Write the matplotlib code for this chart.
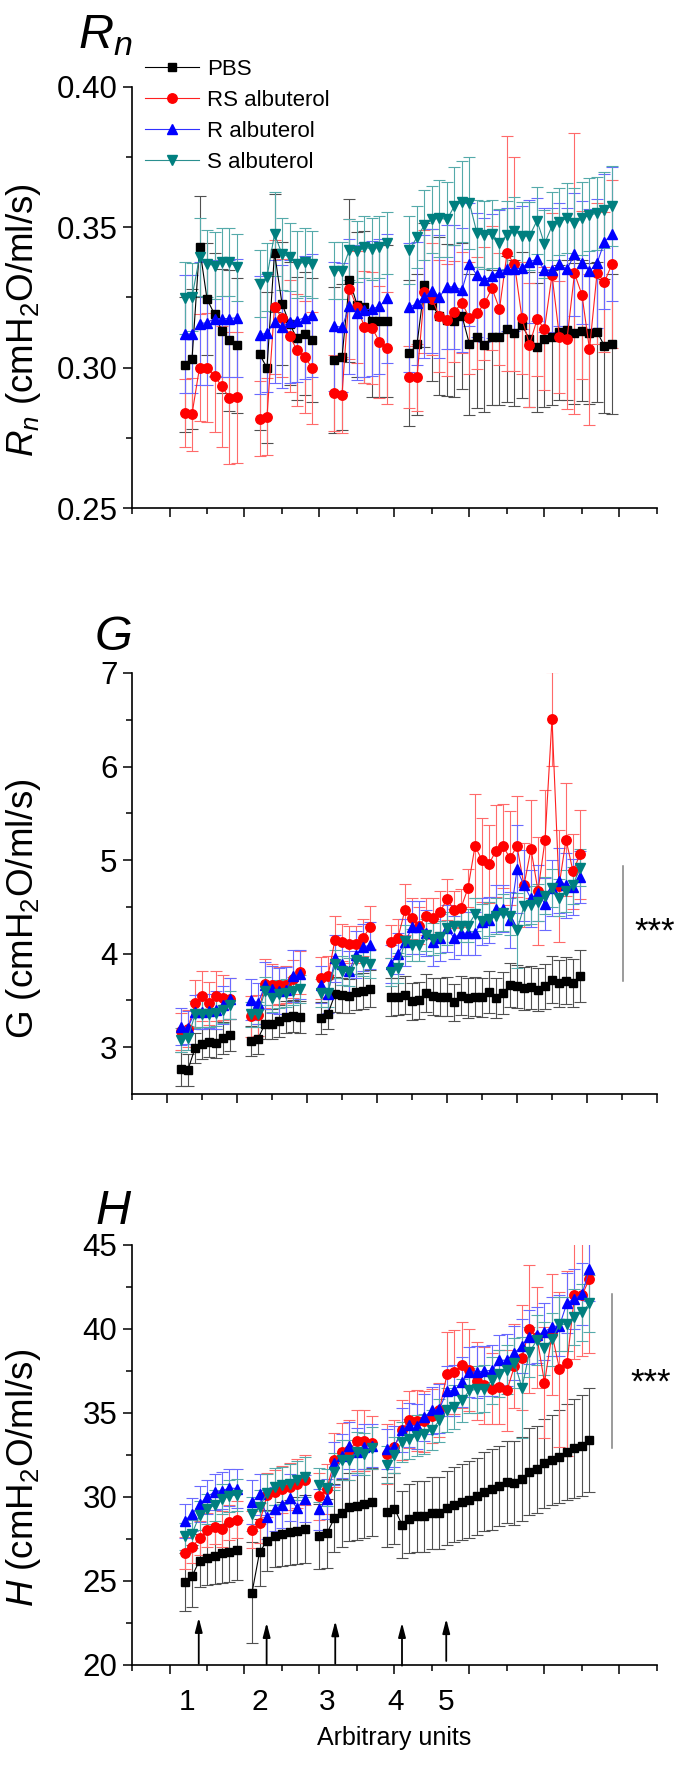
import numpy as np
import matplotlib
matplotlib.use("Agg")
import matplotlib.pyplot as plt
from matplotlib.lines import Line2D
import matplotlib.transforms as mtrans

plt.rcParams['font.family'] = ['Liberation Sans', 'DejaVu Sans']
plt.rcParams['mathtext.fontset'] = 'custom'
plt.rcParams['mathtext.rm'] = 'Liberation Sans'
plt.rcParams['mathtext.it'] = 'Liberation Sans:italic'
plt.rcParams['mathtext.bf'] = 'Liberation Sans:bold'

# ---------------- data ----------------
SERIES = ["PBS", "RS albuterol", "R albuterol", "S albuterol"]
GROUP_SIZES = [8, 8, 8, 28]
RN_STARTS = [7, 17, 27, 37]
G_STARTS = [7, 17, 27, 37]
H_STARTS = [7, 16, 25, 34]

# Rn panel
RN_PBS = [0.301, 0.303, 0.343, 0.3245, 0.319, 0.313, 0.3097, 0.308,
          0.3047, 0.300, 0.341, 0.3228, 0.3157, 0.3104, 0.3121, 0.3098,
          0.3027, 0.3037, 0.3311, 0.3225, 0.3216, 0.3166, 0.3166, 0.3166,
          0.3051, 0.3083, 0.3295, 0.3223, 0.3184, 0.317, 0.3167, 0.3184, 0.3083, 0.3108,
          0.3081, 0.3108, 0.3108, 0.3137, 0.3122, 0.3152, 0.3101, 0.3073, 0.3101, 0.3108,
          0.3126, 0.3134, 0.3122, 0.3132, 0.3122, 0.3128, 0.3077, 0.3084]
RN_PBS_ERR = [0.024, 0.025, 0.018, 0.02, 0.022, 0.022, 0.025, 0.024,
              0.027, 0.027, 0.021, 0.022, 0.022, 0.022, 0.022, 0.022,
              0.026, 0.026, 0.029, 0.026, 0.027, 0.027, 0.027, 0.027,
              0.026, 0.025, 0.022, 0.027, 0.028, 0.027, 0.027, 0.026, 0.025, 0.025,
              0.024, 0.024, 0.024, 0.026, 0.026, 0.026, 0.024, 0.023, 0.024, 0.024,
              0.024, 0.025, 0.025, 0.025, 0.025, 0.025, 0.024, 0.025]
RN_RS = [0.2838, 0.2834, 0.300, 0.300, 0.297, 0.2933, 0.2891, 0.2894,
         0.2818, 0.2826, 0.3216, 0.3177, 0.3113, 0.3063, 0.3039, 0.300,
         0.2909, 0.2903, 0.3281, 0.3216, 0.3145, 0.3142, 0.3092, 0.3069,
         0.2966, 0.2966, 0.3271, 0.3244, 0.3184, 0.317, 0.320, 0.3231, 0.3176, 0.3194,
         0.3229, 0.3283, 0.3209, 0.3407, 0.3369, 0.3176, 0.3081, 0.3172, 0.3139, 0.333,
         0.3108, 0.3101, 0.3336, 0.3259, 0.3065, 0.3336, 0.3306, 0.3369]
RN_RS_ERR = [0.012, 0.013, 0.019, 0.0195, 0.02, 0.0215, 0.0235, 0.0233,
             0.0134, 0.0136, 0.024, 0.021, 0.02, 0.02, 0.02, 0.02,
             0.0136, 0.0136, 0.025, 0.02, 0.02, 0.02, 0.02, 0.02,
             0.011, 0.012, 0.022, 0.02, 0.02, 0.02, 0.018, 0.018, 0.02, 0.02,
             0.02, 0.022, 0.02, 0.042, 0.038, 0.02, 0.022, 0.02, 0.022, 0.022,
             0.02, 0.025, 0.05, 0.03, 0.027, 0.025, 0.025, 0.03]
RN_R = [0.312, 0.312, 0.3157, 0.316, 0.3175, 0.3175, 0.3175, 0.3178,
        0.3117, 0.3123, 0.3164, 0.3146, 0.3164, 0.3168, 0.3178, 0.3186,
        0.3148, 0.3144, 0.3218, 0.3196, 0.3205, 0.321, 0.3218, 0.3248,
        0.3215, 0.3229, 0.3253, 0.3274, 0.3253, 0.3288, 0.3288, 0.3277, 0.3368, 0.333,
        0.3312, 0.3327, 0.3342, 0.335, 0.335, 0.3356, 0.3378, 0.3386, 0.3348, 0.3348,
        0.3368, 0.335, 0.3404, 0.3374, 0.3344, 0.3372, 0.3449, 0.3476]
RN_R_ERR = [0.021, 0.021, 0.022, 0.022, 0.021, 0.021, 0.021, 0.021,
            0.021, 0.021, 0.022, 0.022, 0.022, 0.022, 0.022, 0.022,
            0.023, 0.023, 0.024, 0.024, 0.024, 0.024, 0.024, 0.023,
            0.023, 0.022, 0.022, 0.022, 0.022, 0.022, 0.022, 0.022, 0.022, 0.022,
            0.022, 0.022, 0.022, 0.022, 0.022, 0.022, 0.022, 0.022, 0.022, 0.022,
            0.022, 0.022, 0.022, 0.022, 0.022, 0.023, 0.024, 0.024]
RN_S = [0.3248, 0.3252, 0.3394, 0.337, 0.3364, 0.3376, 0.3376, 0.3358,
        0.3299, 0.3323, 0.3476, 0.3405, 0.3394, 0.3368, 0.3376, 0.3368,
        0.3346, 0.3346, 0.3421, 0.3414, 0.3429, 0.3423, 0.3429, 0.3443,
        0.3419, 0.3465, 0.3508, 0.3529, 0.3532, 0.3529, 0.3576, 0.3591, 0.3586, 0.3479,
        0.3473, 0.3476, 0.3445, 0.3473, 0.3488, 0.3469, 0.3469, 0.3524, 0.3441, 0.3505,
        0.352, 0.3532, 0.3514, 0.3532, 0.3544, 0.355, 0.3562, 0.3576]
RN_S_ERR = [0.0128, 0.012, 0.014, 0.012, 0.012, 0.012, 0.012, 0.012,
            0.012, 0.012, 0.015, 0.013, 0.012, 0.012, 0.012, 0.012,
            0.010, 0.010, 0.011, 0.011, 0.011, 0.011, 0.011, 0.011,
            0.012, 0.011, 0.0125, 0.012, 0.0137, 0.0134, 0.014, 0.0145, 0.0164, 0.012,
            0.012, 0.012, 0.012, 0.012, 0.012, 0.012, 0.012, 0.012, 0.012, 0.012,
            0.012, 0.0125, 0.0125, 0.013, 0.013, 0.013, 0.0135, 0.0142]

# G panel
G_PBS = [2.77, 2.76, 2.99, 3.03, 3.06, 3.04, 3.10, 3.13,
         3.07, 3.09, 3.25, 3.25, 3.28, 3.32, 3.33, 3.32,
         3.31, 3.36, 3.565, 3.555, 3.545, 3.59, 3.60, 3.625,
         3.535, 3.54, 3.56, 3.49, 3.50, 3.58, 3.545, 3.535, 3.54, 3.48,
         3.55, 3.525, 3.54, 3.535, 3.59, 3.525, 3.58, 3.665, 3.65, 3.63,
         3.64, 3.615, 3.65, 3.72, 3.685, 3.71, 3.685, 3.76]
G_PBS_ERR = [0.18, 0.17, 0.16, 0.16, 0.16, 0.16, 0.17, 0.17,
             0.16, 0.16, 0.16, 0.16, 0.17, 0.17, 0.17, 0.17,
             0.17, 0.17, 0.19, 0.19, 0.18, 0.19, 0.19, 0.20,
             0.20, 0.20, 0.20, 0.20, 0.20, 0.20, 0.20, 0.20, 0.21, 0.20,
             0.21, 0.21, 0.21, 0.21, 0.22, 0.21, 0.22, 0.23, 0.23, 0.23,
             0.23, 0.23, 0.24, 0.25, 0.25, 0.25, 0.26, 0.28]
G_RS = [3.17, 3.20, 3.47, 3.55, 3.47, 3.55, 3.53, 3.52,
        3.33, 3.34, 3.68, 3.67, 3.66, 3.67, 3.73, 3.80,
        3.74, 3.76, 4.15, 4.12, 4.10, 4.10, 4.17, 4.28,
        4.13, 4.17, 4.47, 4.38, 4.30, 4.40, 4.38, 4.45, 4.58, 4.47,
        4.49, 4.70, 5.15, 5.00, 4.96, 5.10, 5.15, 5.02, 5.15, 4.73,
        5.12, 4.67, 5.21, 6.51, 4.72, 5.22, 4.88, 5.06]
G_RS_ERR = [0.20, 0.20, 0.25, 0.27, 0.23, 0.27, 0.24, 0.22,
            0.22, 0.22, 0.26, 0.22, 0.20, 0.20, 0.20, 0.23,
            0.22, 0.22, 0.25, 0.20, 0.20, 0.20, 0.20, 0.23,
            0.18, 0.20, 0.27, 0.22, 0.20, 0.20, 0.22, 0.22, 0.22, 0.20,
            0.20, 0.20, 0.56, 0.45, 0.42, 0.49, 0.45, 0.50, 0.54, 0.45,
            0.52, 0.58, 0.54, 0.50, 0.60, 0.60, 0.40, 0.48]
G_R = [3.22, 3.21, 3.38, 3.38, 3.39, 3.40, 3.45, 3.52,
       3.51, 3.47, 3.66, 3.62, 3.60, 3.61, 3.76, 3.78,
       3.67, 3.57, 3.95, 3.89, 3.81, 3.99, 4.07, 4.09,
       3.89, 4.00, 4.12, 4.28, 4.28, 4.22, 4.12, 4.17, 4.27, 4.17,
       4.22, 4.22, 4.22, 4.34, 4.36, 4.48, 4.48, 4.36, 4.90, 4.73,
       4.59, 4.65, 4.53, 4.70, 4.78, 4.73, 4.71, 4.82]
G_R_ERR = [0.20, 0.18, 0.18, 0.19, 0.18, 0.20, 0.20, 0.22,
           0.22, 0.22, 0.25, 0.25, 0.25, 0.25, 0.28, 0.26,
           0.20, 0.20, 0.25, 0.22, 0.22, 0.25, 0.25, 0.25,
           0.20, 0.22, 0.25, 0.28, 0.28, 0.25, 0.25, 0.25, 0.25, 0.23,
           0.23, 0.23, 0.23, 0.25, 0.25, 0.25, 0.25, 0.30, 0.47, 0.38,
           0.30, 0.30, 0.28, 0.30, 0.35, 0.35, 0.30, 0.28]
G_S = [3.08, 3.10, 3.35, 3.36, 3.36, 3.37, 3.40, 3.45,
       3.35, 3.35, 3.60, 3.53, 3.57, 3.58, 3.60, 3.62,
       3.58, 3.58, 3.89, 3.82, 3.80, 3.93, 3.91, 3.89,
       3.80, 3.85, 4.14, 4.09, 4.09, 4.20, 4.16, 4.18, 4.27, 4.30,
       4.30, 4.30, 4.42, 4.35, 4.37, 4.40, 4.44, 4.40, 4.25, 4.51,
       4.52, 4.55, 4.62, 4.70, 4.60, 4.67, 4.73, 4.92]
G_S_ERR = [0.13, 0.13, 0.14, 0.14, 0.14, 0.14, 0.14, 0.15,
           0.13, 0.13, 0.15, 0.15, 0.15, 0.15, 0.15, 0.15,
           0.15, 0.15, 0.15, 0.15, 0.15, 0.15, 0.15, 0.15,
           0.15, 0.16, 0.17, 0.17, 0.17, 0.17, 0.17, 0.17, 0.18, 0.18,
           0.18, 0.18, 0.18, 0.18, 0.18, 0.19, 0.20, 0.20, 0.40, 0.20,
           0.20, 0.20, 0.20, 0.20, 0.20, 0.22, 0.20, 0.20]

# H panel
H_PBS = [24.94, 25.28, 26.22, 26.39, 26.5, 26.65, 26.72, 26.85,
         24.3, 26.7, 27.4, 27.7, 27.8, 27.9, 28.0, 28.1,
         27.65, 27.85, 28.75, 29.05, 29.4, 29.45, 29.6, 29.7,
         29.1, 29.3, 28.35, 28.7, 28.85, 28.85, 29.05, 29.05, 29.35, 29.55,
         29.7, 29.85, 30.05, 30.3, 30.45, 30.65, 30.9, 30.85, 31.1, 31.5,
         31.65, 32.0, 32.2, 32.4, 32.7, 32.9, 33.05, 33.4]
H_PBS_ERR = [1.75, 1.85, 1.6, 1.65, 1.7, 1.75, 1.75, 1.8,
             3.0, 2.0, 1.8, 1.85, 1.9, 1.95, 2.0, 2.0,
             1.95, 2.05, 2.0, 2.0, 2.0, 2.0, 2.05, 2.05,
             2.1, 2.1, 2.0, 2.05, 2.1, 2.1, 2.15, 2.15, 2.2, 2.25,
             2.25, 2.3, 2.3, 2.35, 2.4, 2.4, 2.45, 2.5, 2.5, 2.6,
             2.6, 2.65, 2.7, 2.75, 2.85, 2.95, 3.0, 3.1]
H_RS = [26.65, 27.0, 27.55, 28.05, 28.2, 28.1, 28.5, 28.65,
        28.05, 28.45, 30.1, 30.3, 30.45, 30.6, 30.8, 31.0,
        30.05, 30.49, 32.2, 32.7, 32.8, 33.35, 33.35, 33.24,
        32.55, 33.0, 34.0, 34.6, 34.55, 34.5, 34.8, 35.2, 37.3, 37.45,
        37.85, 37.55, 36.9, 36.65, 36.45, 36.55, 36.35, 37.8, 38.3, 40.0,
        39.5, 36.8, 39.7, 37.6, 37.95, 42.0, 42.0, 43.0]
H_RS_ERR = [0.95, 0.95, 1.0, 1.0, 1.0, 1.05, 1.05, 1.1,
            1.1, 1.2, 1.3, 1.3, 1.4, 1.4, 1.45, 1.5,
            1.4, 1.5, 1.6, 1.7, 1.8, 1.8, 1.8, 1.6,
            1.8, 1.6, 1.8, 1.7, 1.8, 1.8, 1.6, 1.6, 2.5, 2.5,
            2.55, 2.45, 2.3, 2.3, 2.1, 2.2, 2.4, 2.5, 3.1, 3.8,
            3.0, 3.3, 3.6, 4.6, 5.5, 3.8, 3.6, 4.4]
H_R = [28.58, 28.97, 29.58, 30.0, 30.3, 30.37, 30.54, 30.5,
       29.7, 30.15, 28.8, 29.3, 29.5, 29.95, 29.35, 29.9,
       29.26, 29.88, 32.0, 32.45, 33.06, 32.7, 33.0, 33.06,
       32.87, 33.0, 34.0, 34.3, 34.2, 34.76, 35.16, 35.25, 36.3, 36.35,
       36.85, 37.44, 37.44, 37.5, 37.54, 38.14, 38.14, 38.58, 39.0, 39.53,
       39.63, 39.83, 40.13, 40.2, 41.56, 41.8, 42.07, 43.55]
H_R_ERR = [1.0, 1.0, 1.05, 1.0, 1.05, 1.1, 1.1, 1.15,
           1.3, 1.2, 1.3, 1.3, 1.35, 1.4, 1.4, 1.4,
           1.2, 1.2, 1.3, 1.3, 1.4, 1.4, 1.35, 1.3,
           1.2, 1.2, 1.3, 1.3, 1.35, 1.4, 1.4, 1.45, 1.5, 1.5,
           1.5, 1.5, 1.55, 1.5, 1.5, 1.5, 1.55, 1.6, 1.6, 1.6,
           1.65, 1.7, 1.75, 1.8, 1.8, 1.8, 1.85, 1.9]
H_S = [27.67, 27.8, 28.9, 29.3, 29.5, 29.88, 30.05, 30.12,
       29.0, 29.4, 30.25, 30.6, 30.7, 30.8, 31.0, 31.2,
       30.7, 30.54, 31.5, 32.2, 32.2, 32.65, 32.57, 32.94,
       31.93, 32.5, 33.26, 33.46, 33.66, 33.76, 34.0, 34.56, 35.16, 35.36,
       35.75, 36.35, 36.4, 36.45, 36.95, 37.35, 37.58, 37.98, 36.5, 38.64,
       39.34, 38.84, 39.38, 40.28, 40.28, 40.72, 41.0, 41.52]
H_S_ERR = [0.8, 0.85, 0.85, 0.9, 0.9, 0.9, 0.95, 0.95,
           1.0, 1.0, 1.1, 1.1, 1.1, 1.15, 1.15, 1.2,
           1.0, 1.1, 1.1, 1.2, 1.2, 1.2, 1.25, 1.25,
           1.1, 1.1, 1.2, 1.2, 1.2, 1.2, 1.2, 1.3, 1.3, 1.3,
           1.3, 1.35, 1.4, 1.4, 1.4, 1.4, 1.45, 1.5, 3.0, 1.5,
           1.5, 1.55, 1.6, 1.6, 1.6, 1.65, 1.7, 1.7]

RN_YTICKS = [0.25, 0.30, 0.35, 0.40]
G_YTICKS = [3, 4, 5, 6, 7]
H_YTICKS = [20, 25, 30, 35, 40, 45]

H_XLABELS = ["1", "2", "3", "4", "5"]
H_XLABEL_POS = [7.3, 17.1, 26.0, 35.1, 41.9]
ARROW_X = [8.9, 17.95, 27.1, 36.0, 41.9]
ARROW_TOP = [22.82, 22.52, 22.62, 22.52, 22.75]
ARROW_BOTTOM = [20.08, 20.04, 20.08, 19.96, 20.24]

G_SIG = dict(x=70.1, y0=3.71, y1=4.94, tx=74.6, ty=4.13)
H_SIG = dict(x=64.0, y0=32.9, y1=42.1, tx=69.2, ty=36.2)

# ---------------- styles ----------------
STYLES = [
    dict(marker='s', color='#000000', lcolor='#000000', ecolor='#505050', ms=6.0),
    dict(marker='o', color='#ff0000', lcolor='#ff2020', ecolor='#ff6a6a', ms=6.8),
    dict(marker='^', color='#0000ff', lcolor='#3030ff', ecolor='#6a6aff', ms=7.4),
    dict(marker='v', color='#007f7f', lcolor='#2a8f8f', ecolor='#55aaaa', ms=7.4),
]

W, H = 685, 1778
fig = plt.figure(figsize=(W / 100, H / 100), dpi=100)


def axes_rect(top_px, bottom_px, left_px=132, right_px=657):
    return [left_px / W, 1 - bottom_px / H, (right_px - left_px) / W, (bottom_px - top_px) / H]


def x_positions(starts):
    return [np.arange(s, s + n) for s, n in zip(starts, GROUP_SIZES)]


def draw_panel(ax, starts, series, errs):
    xs = x_positions(starts)
    for vals, err, st in zip(series, errs, STYLES):
        vals = np.asarray(vals)
        err = np.asarray(err)
        i0 = 0
        for xg in xs:
            n = len(xg)
            ax.errorbar(xg, vals[i0:i0 + n], yerr=err[i0:i0 + n],
                        fmt='-', marker=st['marker'], color=st['lcolor'],
                        mfc=st['color'], mec=st['color'], ms=st['ms'], lw=0.8,
                        ecolor=st['ecolor'], elinewidth=0.8, capsize=4.3,
                        capthick=0.8)
            i0 += n


def style_axes(ax, xmax, ylim, yticks, yminor, yfmt):
    for s in ['top', 'right']:
        ax.spines[s].set_visible(False)
    for s in ['left', 'bottom']:
        ax.spines[s].set_linewidth(1.2)
    ax.set_xlim(0, xmax)
    ax.set_ylim(*ylim)
    ax.set_xticks(np.arange(5, xmax + 0.1, 10))
    ax.set_xticks(np.arange(0, xmax + 0.1, 10), minor=True)
    ax.set_xticklabels([])
    ax.set_yticks(yticks)
    ax.set_yticks(yminor, minor=True)
    ax.set_yticklabels([yfmt.format(v) for v in yticks])
    ax.tick_params(axis='both', which='major', direction='out', length=6.5,
                   width=1.1, labelsize=22.5, pad=4)
    ax.tick_params(axis='both', which='minor', direction='out', length=4.5, width=1.1)
    ax.tick_params(axis='x', which='major', length=6.5)
    ax.tick_params(axis='x', which='minor', length=4.0)


# ---- Rn panel ----
ax1 = fig.add_axes(axes_rect(87, 508))
draw_panel(ax1, RN_STARTS, [RN_PBS, RN_RS, RN_R, RN_S],
           [RN_PBS_ERR, RN_RS_ERR, RN_R_ERR, RN_S_ERR])
style_axes(ax1, 70, (0.25, 0.40), RN_YTICKS, [0.275, 0.325, 0.375], "{:.2f}")
ax1.set_ylabel(r'$R_n$ (cmH$_2$O/ml/s)', fontsize=26.5)
ax1.yaxis.set_label_coords(-0.17, 0.445)
ax1.text(0.0, 1.093, r'$R_n$', transform=ax1.transAxes, ha='right', va='baseline',
         fontsize=35)

handles = [Line2D([], [], color=st['lcolor'], lw=0.8, marker=st['marker'],
                  mfc=st['color'], mec=st['color'], ms=st['ms']) for st in STYLES]
fig.legend(handles, SERIES, loc='upper left', bbox_to_anchor=(145 / W, 1 - 59 / H),
           bbox_transform=fig.transFigure, frameon=False, fontsize=16,
           borderpad=0, borderaxespad=0, handlelength=2.45, handletextpad=0.35,
           labelspacing=0.45)

# ---- G panel ----
ax2 = fig.add_axes(axes_rect(673, 1094))
draw_panel(ax2, G_STARTS, [G_PBS, G_RS, G_R, G_S],
           [G_PBS_ERR, G_RS_ERR, G_R_ERR, G_S_ERR])
style_axes(ax2, 75, (2.5, 7.0), G_YTICKS, [3.5, 4.5, 5.5, 6.5], "{:d}")
ax2.set_ylabel(r'G (cmH$_2$O/ml/s)', fontsize=26.5)
ax2.yaxis.set_label_coords(-0.17, 0.44)
ax2.text(0.0, 1.055, r'$G$', transform=ax2.transAxes, ha='right', va='baseline',
         fontsize=35)
ax2.plot([G_SIG['x'], G_SIG['x']], [G_SIG['y0'], G_SIG['y1']], color='#808080',
         lw=1.1, clip_on=False)
ax2.text(G_SIG['tx'], G_SIG['ty'], '***', ha='center', va='baseline', fontsize=25,
         clip_on=False)

# ---- H panel ----
ax3 = fig.add_axes(axes_rect(1245, 1665))
draw_panel(ax3, H_STARTS, [H_PBS, H_RS, H_R, H_S],
           [H_PBS_ERR, H_RS_ERR, H_R_ERR, H_S_ERR])
style_axes(ax3, 70, (20, 45), H_YTICKS, [22.5, 27.5, 32.5, 37.5, 42.5], "{:d}")
ax3.set_ylabel(r'$H$ (cmH$_2$O/ml/s)', fontsize=26.5)
ax3.yaxis.set_label_coords(-0.17, 0.446)
ax3.text(0.0, 1.05, r'$H$', transform=ax3.transAxes, ha='right', va='baseline',
         fontsize=35)
ax3.plot([H_SIG['x'], H_SIG['x']], [H_SIG['y0'], H_SIG['y1']], color='#808080',
         lw=1.1, clip_on=False)
ax3.text(H_SIG['tx'], H_SIG['ty'], '***', ha='center', va='baseline', fontsize=25,
         clip_on=False)

for xa, yt, yb in zip(ARROW_X, ARROW_TOP, ARROW_BOTTOM):
    ax3.annotate('', xy=(xa, yt), xytext=(xa, yb),
                 arrowprops=dict(arrowstyle='-|>,head_length=0.85,head_width=0.22',
                                 color='black', lw=1.3, shrinkA=0, shrinkB=0))

btrans = mtrans.blended_transform_factory(ax3.transData, ax3.transAxes)
for lab, xp in zip(H_XLABELS, H_XLABEL_POS):
    ax3.text(xp, -0.107, lab, transform=btrans, ha='center', va='baseline',
             fontsize=21.5, clip_on=False)
ax3.set_xlabel('Arbitrary units', fontsize=18)
ax3.xaxis.set_label_coords(0.5, -0.145)

fig.savefig('out.png', dpi=100)
